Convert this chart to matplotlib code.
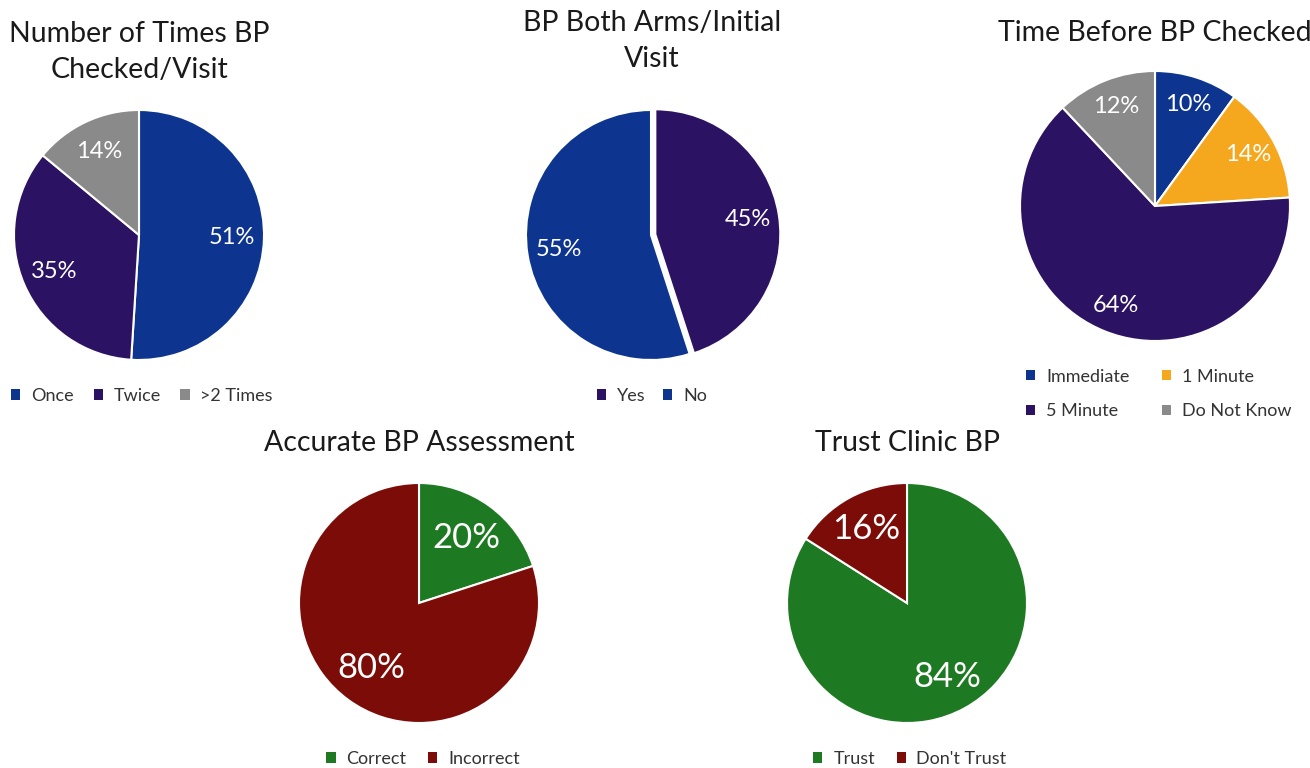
import matplotlib
matplotlib.use("Agg")
import matplotlib.pyplot as plt
from matplotlib.patches import Patch

plt.rcParams['font.family'] = ['Lato', 'DejaVu Sans']

W, H = 1310, 768

# ---- data ----
checks_labels = ["Once", "Twice", ">2 Times"]
checks_values = [51, 35, 14]

arms_labels = ["Yes", "No"]
arms_values = [45, 55]

time_labels = ["Immediate", "1 Minute", "5 Minute", "Do Not Know"]
time_values = [10, 14, 64, 12]

accurate_labels = ["Correct", "Incorrect"]
accurate_values = [20, 80]

trust_labels = ["Trust", "Don't Trust"]
trust_values = [84, 16]

BLUE = "#0d3590"
PURPLE = "#2c1262"
GRAY = "#8a8a8a"
ORANGE = "#f5a81d"
GREEN = "#1e7a22"
RED = "#7c0c07"

fig = plt.figure(figsize=(W / 100, H / 100), dpi=100)


def px_axes(cx, cy, r):
    return fig.add_axes([(cx - r) / W, (H - cy - r) / H, 2 * r / W, 2 * r / H])


def draw_pie(cx, cy, r, values, colors, pctdist, fs, explode=None):
    ax = px_axes(cx, cy, r)
    ax.pie(values, colors=colors, startangle=90, counterclock=False,
           explode=explode, autopct=lambda p: f"{p:.0f}%", pctdistance=pctdist,
           radius=1.0,
           wedgeprops=dict(edgecolor="white", linewidth=1.5),
           textprops=dict(color="white", fontsize=fs))
    ax.set_xlim(-1, 1)
    ax.set_ylim(-1, 1)
    ax.set_aspect("equal")
    ax.axis("off")
    return ax


def title(x, y, s, fs=20.5):
    fig.text(x / W, 1 - y / H, s, ha="center", va="center", fontsize=fs,
             color="#1a1a1a", linespacing=1.45)


def legend(x, y, labels, colors, ncol, colspacing=1.6):
    handles = [Patch(facecolor=c, edgecolor="none") for c in colors]
    fig.legend(handles, labels, loc="center", bbox_to_anchor=(x / W, 1 - y / H),
               ncol=ncol, frameon=False, fontsize=13, handlelength=0.5,
               handleheight=0.5, handletextpad=0.6, columnspacing=colspacing,
               labelcolor="#333333", labelspacing=1.05)


# pie 1
draw_pie(139, 235, 125, checks_values, [BLUE, PURPLE, GRAY], 0.74, 17)
title(139, 52, "Number of Times BP\nChecked/Visit")
legend(142, 396, checks_labels, [BLUE, PURPLE, GRAY], 3, 1.1)

# pie 2
draw_pie(651, 235, 125, arms_values, [PURPLE, BLUE], 0.75, 17, explode=[0.035, 0.0])
title(652, 41, "BP Both Arms/Initial\nVisit")
legend(652, 396, arms_labels, [PURPLE, BLUE], 2, 1.0)

# pie 3
time_colors = [BLUE, ORANGE, PURPLE, GRAY]
draw_pie(1155, 206, 135, time_values, time_colors, 0.79, 17)
title(1155, 33, "Time Before BP Checked")
order = [0, 2, 1, 3]
legend(1159, 394, [time_labels[i] for i in order], [time_colors[i] for i in order], 2, 1.8)

# pie 4
draw_pie(419, 603, 120, accurate_values, [GREEN, RED], 0.67, 25)
title(419, 443, "Accurate BP Assessment")
legend(423, 759, accurate_labels, [GREEN, RED], 2, 1.2)

# pie 5
draw_pie(907, 603, 120, trust_values, [GREEN, RED], 0.7, 25)
title(907, 443, "Trust Clinic BP")
legend(910, 759, trust_labels, [GREEN, RED], 2, 1.2)

fig.savefig("out.png", dpi=100, facecolor="white")
